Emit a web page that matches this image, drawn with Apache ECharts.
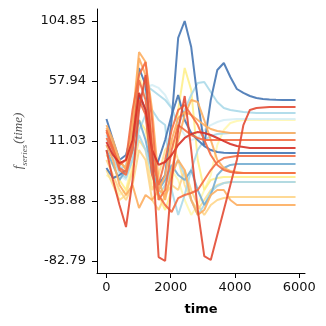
<!DOCTYPE html>
<html><head><meta charset="utf-8">
<script src="https://cdn.jsdelivr.net/npm/echarts@6/dist/echarts.min.js"></script>
<style>html,body{margin:0;padding:0;background:#fff}#c{width:326px;height:326px}</style>
</head><body><div id="c"></div>
<script>
const times = [0,203,406,609,812,1015,1218,1421,1624,1827,2030,2233,2436,2639,2842,3045,3248,3451,3654,3857,4060,4263,4466,4669,4872,5075,5278,5481,5684,5887];

const sA = [28.2,11.8,-3.8,0.1,19.6,68.1,54.8,4.0,-23.4,-15.6,27.4,91.6,104.85,84.5,43.1,7.9,43.1,66.5,72.0,61.1,51.7,48.6,46.2,44.6,43.9,43.5,43.2,43.1,43.1,43.1];
const sB = [-10.1,-17.9,-15.6,-11.7,4.0,47.0,35.3,-15.6,-3.8,11.8,31.4,47.0,27.4,17.3,11.8,7.1,4.0,2.4,1.9,1.7,1.6,1.6,1.6,1.6,1.6,1.6,1.6,1.6,1.6,1.6];
const sC = [4.0,-7.7,-19.5,-11.7,7.9,27.4,11.8,-11.7,-27.3,-19.5,-7.7,-15.6,-19.5,-11.7,-27.3,-39.0,-31.2,-15.6,-10.1,-7.7,-7.0,-7.0,-7.0,-7.0,-7.0,-7.0,-7.0,-7.0,-7.0,-7.0];
const sD = [15.7,4.0,-11.7,-7.7,11.8,43.1,54.8,50.9,47.0,43.1,36.8,23.5,35.3,47.0,56.4,57.2,49.3,41.5,36.8,35.3,34.5,33.7,33.3,32.9,32.9,32.9,32.9,32.9,32.9,32.9];
const sE = [19.6,7.9,-7.7,-15.6,-3.8,19.6,31.4,35.3,27.4,23.5,-27.3,-46.8,-31.2,-11.7,4.0,11.8,14.9,16.5,16.9,17.3,17.3,17.3,17.3,17.3,17.3,17.3,17.3,17.3,17.3,17.3];
const sF = [11.8,0.1,-15.6,-19.5,4.0,35.3,52.5,54.8,52.5,47.0,36.8,23.5,15.7,11.8,13.4,19.6,23.5,25.9,27.4,27.8,28.2,28.2,28.2,28.2,28.2,28.2,28.2,28.2,28.2,28.2];
const sG = [0.1,-7.7,-19.5,-27.3,-11.7,27.4,19.6,-7.7,-31.2,-42.9,-27.3,35.3,68.1,50.9,-3.8,-27.3,-19.5,-17.9,-17.1,-17.1,-17.1,-17.1,-17.1,-17.1,-17.1,-17.1,-17.1,-17.1,-17.1,-17.1];
const sH = [-15.6,-19.5,-31.2,-27.3,-3.8,62.6,47.0,-19.5,-35.1,-23.4,-11.7,-19.5,-35.1,-46.8,-39.0,-27.3,-15.6,7.9,19.6,25.1,26.7,27.4,27.4,27.4,27.4,27.4,27.4,27.4,27.4,27.4];
const sI = [-11.7,-23.4,-35.1,-31.2,-11.7,11.8,4.0,-27.3,-15.6,4.0,11.8,-3.8,-23.4,-35.1,-42.9,-35.1,-27.3,-23.4,-21.8,-21.0,-21.0,-21.0,-21.0,-21.0,-21.0,-21.0,-21.0,-21.0,-21.0,-21.0];
const sJ = [-3.8,-15.6,-27.3,-35.1,-23.4,4.0,-3.8,-35.1,-42.9,-31.2,-23.4,-27.3,-11.7,-27.3,-39.0,-46.8,-39.0,-35.1,-33.6,-32.8,-32.8,-32.8,-32.8,-32.8,-32.8,-32.8,-32.8,-32.8,-32.8,-32.8];
const sK = [7.9,-3.8,-23.4,-31.2,-23.4,-41.4,-31.2,-35.1,-27.3,-31.2,-15.6,-3.8,-11.7,-35.1,-46.8,-42.9,-31.2,-27.3,-27.3,-35.1,-39.0,-39.0,-39.0,-39.0,-39.0,-39.0,-39.0,-39.0,-39.0,-39.0];
const sL = [23.5,11.8,-3.8,-11.7,27.4,80.6,72.8,35.3,-19.5,-35.1,-11.7,11.8,31.4,43.1,41.5,27.4,11.8,-3.8,-10.1,-12.4,-13.2,-14.0,-14.0,-14.0,-14.0,-14.0,-14.0,-14.0,-14.0,-14.0];
const sM = [19.6,4.0,-7.7,-3.8,35.3,62.6,72.8,27.4,-35.1,-27.3,4.0,23.5,19.6,15.7,13.4,11.8,11.8,11.8,11.8,11.8,11.8,11.8,11.8,11.8,11.8,11.8,11.8,11.8,11.8,11.8];
const sN = [4.0,-19.5,-39.0,-56.2,-19.5,35.3,62.6,4.0,-79.7,-82.79,-19.5,19.6,46.2,4.0,-42.9,-78.9,-82.0,-62.5,-42.9,-23.4,-3.8,23.5,35.3,36.8,37.2,37.6,37.6,37.6,37.6,37.6];
const sO = [10.2,0.1,-6.2,-3.8,11.8,48.6,35.3,4.0,-7.7,-5.4,0.1,7.9,13.4,16.5,18.1,17.3,15.7,13.4,11.0,8.7,7.1,6.3,5.5,5.5,5.5,5.5,5.5,5.5,5.5,5.5];
const sP = [13.4,4.0,-11.7,-15.6,4.0,43.1,31.4,-15.6,-31.2,-39.0,-44.5,-33.6,-31.2,-29.6,-27.3,-19.5,-11.7,-5.4,-2.3,-1.5,-0.7,-0.7,-0.7,-0.7,-0.7,-0.7,-0.7,-0.7,-0.7,-0.7];
const sQ = [18.1,5.6,-10.1,-13.2,7.9,58.7,43.1,-3.8,-23.4,-3.8,19.6,35.3,39.2,31.4,23.5,11.8,0.1,-7.7,-11.7,-13.2,-14.0,-14.0,-14.0,-14.0,-14.0,-14.0,-14.0,-14.0,-14.0,-14.0];
const sR = [21.2,7.9,-5.4,-10.1,19.6,75.9,62.6,11.8,-27.3,-15.6,11.8,29.0,33.7,31.4,27.4,23.5,20.4,18.9,18.1,17.3,17.3,17.3,17.3,17.3,17.3,17.3,17.3,17.3,17.3,17.3];
const sT = [7.9,-2.3,-13.2,-17.9,-3.8,15.7,4.0,-15.6,-31.2,-23.4,-11.7,-3.8,-15.6,-35.1,-46.8,-39.0,-28.9,-24.2,-21.8,-21.0,-21.0,-21.0,-21.0,-21.0,-21.0,-21.0,-21.0,-21.0,-21.0,-21.0];

const xTicks = [0, 2000, 4000, 6000];
const yTicks = [-82.79, -35.88, 11.03, 57.94, 104.85];

const seriesList = [sH, sF, sG, sI, sJ, sD, sE, sT, sC, sB, sA, sK, sL, sR, sQ, sM, sP, sO, sN];
const colors = ['#fff7b0', '#d6eef5', '#fef08c', '#fee090', '#fed58a', '#abd9e9', '#abd9e9', '#abd9e9', '#74add1', '#4575b4', '#4575b4', '#fdae61', '#fdae61', '#fdae61', '#f46d43', '#f46d43', '#f46d43', '#d73027', '#e34a33'];

let dmin = Infinity, dmax = -Infinity;
seriesList.forEach(s => s.forEach(v => { if (v < dmin) dmin = v; if (v > dmax) dmax = v; }));
const ypad = 0.05 * (dmax - dmin);
const xpad = 0.05 * (times[times.length - 1] - times[0]);

const chart = echarts.init(document.getElementById('c'), null, {renderer: 'canvas'});
chart.setOption({
  animation: false,
  grid: {left: 97, right: 21, top: 9, bottom: 53},
  xAxis: {
    type: 'value', min: times[0] - xpad, max: times[times.length - 1] + xpad,
    axisLine: {show: true, onZero: false, lineStyle: {color: '#000', width: 1}},
    axisTick: {show: true, length: 5, customValues: xTicks, lineStyle: {color: '#000', width: 1}},
    axisLabel: {customValues: xTicks, color: '#111', fontSize: 13, fontFamily: 'DejaVu Sans', margin: 8,
      formatter: v => String(Math.round(v))},
    splitLine: {show: false},
    name: 'time', nameLocation: 'middle', nameGap: 30,
    nameTextStyle: {fontWeight: 'bold', fontSize: 13, color: '#000', fontFamily: 'DejaVu Sans'}
  },
  yAxis: {
    type: 'value', min: dmin - ypad, max: dmax + ypad,
    axisLine: {show: true, onZero: false, lineStyle: {color: '#000', width: 1}},
    axisTick: {show: true, length: 5, customValues: yTicks, lineStyle: {color: '#000', width: 1}},
    axisLabel: {customValues: yTicks, color: '#111', fontSize: 13, fontFamily: 'DejaVu Sans', margin: 11,
      formatter: v => Number(v).toFixed(2)},
    splitLine: {show: false},
    name: '{f|f}{s|series}{p|(time)}', nameLocation: 'middle', nameGap: 68, nameRotate: 90,
    nameTextStyle: {
      color: '#555',
      rich: {
        f: {fontSize: 13, fontStyle: 'italic', fontFamily: 'Liberation Serif', color: '#555', verticalAlign: 'bottom', padding: [0, 0, 4, 0]},
        s: {fontSize: 9, fontStyle: 'italic', fontFamily: 'Liberation Serif', color: '#555', verticalAlign: 'bottom'},
        p: {fontSize: 13, fontStyle: 'italic', fontFamily: 'Liberation Serif', color: '#555', verticalAlign: 'bottom', padding: [0, 0, 4, 1]}
      }
    }
  },
  series: seriesList.map((vals, k) => ({
    type: 'line', showSymbol: false, symbol: 'none', silent: true, z: 2,
    data: vals.map((v, i) => [times[i], v]),
    lineStyle: {width: 2, color: colors[k], opacity: 0.9},
    itemStyle: {color: colors[k]}
  }))
});
</script></body></html>
